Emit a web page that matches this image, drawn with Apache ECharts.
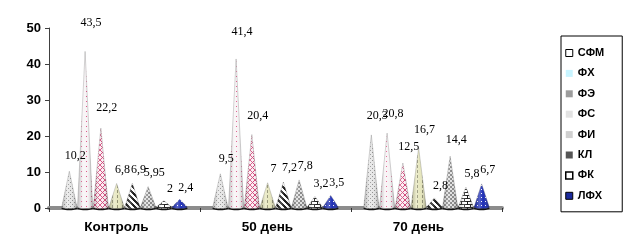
<!DOCTYPE html>
<html>
<head>
<meta charset="utf-8">
<script src="https://cdn.jsdelivr.net/npm/echarts@6/dist/echarts.min.js"></script>
<style>
	html, body { margin: 0; padding: 0; background: #fff; }
	#chart { width: 624px; height: 240px; }
</style>
</head>
<body>
<div id="chart"></div>
<script>
	// 分组与系列
	var groups = ['Контроль', '50 день', '70 день'];
	var seriesNames = ['СФМ', 'ФХ', 'ФЭ', 'ФС', 'ФИ', 'КЛ', 'ФК', 'ЛФХ'];
	var yTicks = [0, 10, 20, 30, 40, 50];

	var sfm = [10.2, 9.5, 20.3];
	var fh = [43.5, 41.4, 20.8];
	var fe = [22.2, 20.4, 12.5];
	var fs = [6.8, 7, 16.7];
	var fi = [6.9, 7.2, 2.8];
	var kl = [5.95, 7.8, 14.4];
	var fk = [2, 3.2, 5.8];
	var lfh = [2.4, 3.5, 6.7];

	var values = [sfm, fh, fe, fs, fi, kl, fk, lfh];

	// 纹理
	function pattern(size, draw) {
		var c = document.createElement('canvas');
		c.width = size;
		c.height = size;
		var ctx = c.getContext('2d');
		draw(ctx, size);
		return { image: c, repeat: 'repeat' };
	}

	var fills = [
		pattern(4, function(ctx) {
			ctx.fillStyle = '#e6e6e6'; ctx.fillRect(0, 0, 4, 4);
			ctx.fillStyle = '#8f8f8f'; ctx.fillRect(0, 0, 1, 1); ctx.fillRect(2, 2, 1, 1);
		}),
		pattern(5, function(ctx) {
			ctx.fillStyle = '#f7f3f5'; ctx.fillRect(0, 0, 5, 5);
			ctx.fillStyle = '#e0588a'; ctx.fillRect(1, 1, 1, 1);
		}),
		pattern(5, function(ctx) {
			ctx.fillStyle = '#fbeef3'; ctx.fillRect(0, 0, 5, 5);
			ctx.fillStyle = '#d2487a';
			for (var i = 0; i < 5; i++) { ctx.fillRect(i, i, 1, 1); ctx.fillRect(4 - i, i, 1, 1); }
		}),
		pattern(5, function(ctx) {
			ctx.fillStyle = '#e6e6bd'; ctx.fillRect(0, 0, 5, 5);
			ctx.fillStyle = '#8e8e70'; ctx.fillRect(2, 0, 1, 3);
		}),
		pattern(6, function(ctx) {
			ctx.fillStyle = '#ffffff'; ctx.fillRect(0, 0, 6, 6);
			ctx.fillStyle = '#1a1a1a';
			for (var i = 0; i < 6; i++) { ctx.fillRect((i + 5) % 6, i, 1, 1); ctx.fillRect(i, i, 1, 1); ctx.fillRect((i + 1) % 6, i, 1, 1); }
		}),
		pattern(4, function(ctx) {
			ctx.fillStyle = '#e2e2e2'; ctx.fillRect(0, 0, 4, 4);
			ctx.fillStyle = '#888888'; ctx.fillRect(0, 0, 2, 2); ctx.fillRect(2, 2, 2, 2);
		}),
		pattern(6, function(ctx) {
			ctx.fillStyle = '#ffffff'; ctx.fillRect(0, 0, 6, 6);
			ctx.fillStyle = '#1a1a1a'; ctx.fillRect(0, 0, 6, 1); ctx.fillRect(0, 3, 6, 1);
			ctx.fillRect(2, 0, 1, 3); ctx.fillRect(5, 3, 1, 3);
		}),
		pattern(4, function(ctx) {
			ctx.fillStyle = '#1f2fb5'; ctx.fillRect(0, 0, 4, 4);
			ctx.fillStyle = '#ffffff'; ctx.fillRect(1, 1, 1, 1);
		})
	];

	// 图例小方块
	var legendStyles = [
		{ color: '#ffffff', borderColor: '#000', borderWidth: 1 },
		{ color: '#c8f4ff', borderColor: '#c8f4ff', borderWidth: 0 },
		{ color: '#9c9c9c', borderColor: '#9c9c9c', borderWidth: 0 },
		{ color: '#e2e2e2', borderColor: '#e2e2e2', borderWidth: 0 },
		{ color: '#cfcfcf', borderColor: '#cfcfcf', borderWidth: 0 },
		{ color: '#555555', borderColor: '#000', borderWidth: 0 },
		{ color: '#ffffff', borderColor: '#000', borderWidth: 1.5 },
		{ color: '#1b2a9c', borderColor: '#000', borderWidth: 1 }
	];

	// 立体感
	var shade = {
		type: 'linear', x: 0, y: 0, x2: 1, y2: 0,
		colorStops: [
			{ offset: 0, color: 'rgba(0,0,0,0.18)' },
			{ offset: 0.35, color: 'rgba(255,255,255,0.25)' },
			{ offset: 0.6, color: 'rgba(255,255,255,0)' },
			{ offset: 1, color: 'rgba(0,0,0,0.3)' }
		]
	};

	function fmt(v) {
		return String(v).replace('.', ',');
	}

	function makeRender(i) {
		return function(params, api) {
			var c = api.value(0);
			var v = api.value(1);
			var base = api.coord([c, 0]);
			var top = api.coord([c, v]);
			var band = api.size([1, 0])[0];
			var step = band * 0.835 / seriesNames.length;
			var cx = base[0] + (i - (seriesNames.length - 1) / 2) * step;
			var half = step * 0.48;
			var by = base[1] - 1;
			var pts = [[cx, top[1]]];
			var ell = [];
			for (var k = 0; k <= 12; k++) {
				var a = Math.PI * k / 12;
				pts.push([cx + half * Math.cos(a), by + 1.6 * Math.sin(a)]);
			}
			for (var k2 = 0; k2 < 24; k2++) {
				var b = Math.PI * 2 * k2 / 24;
				ell.push([cx + half * 1.05 * Math.cos(b), by + 1.2 + 2 * Math.sin(b)]);
			}
			return {
				type: 'group',
				children: [
					{ type: 'polygon', shape: { points: ell }, style: { fill: '#111' } },
					{ type: 'polygon', shape: { points: pts }, style: { fill: fills[i], stroke: 'rgba(90,90,90,0.55)', lineWidth: 0.5 } },
					{ type: 'polygon', shape: { points: pts }, style: { fill: shade } },
					{
						type: 'text',
						z2: 100,
						x: cx + 6,
						y: top[1] - (5 + v * 0.4),
						style: {
							text: fmt(v),
							fill: '#000',
							font: '12px "Liberation Serif"',
							align: 'center',
							verticalAlign: 'bottom'
						}
					}
				]
			};
		};
	}

	var series = seriesNames.map(function(name, i) {
		return {
			name: name,
			type: 'custom',
			renderItem: makeRender(i),
			encode: { x: 0, y: 1 },
			itemStyle: { color: legendStyles[i].color },
			data: values[i].map(function(v, c) { return [c, v]; })
		};
	});

	var chart = echarts.init(document.getElementById('chart'));
	var option = {
		animation: false,
		grid: { left: 49, right: 122, top: 28, bottom: 32 },
		legend: {
			orient: 'vertical',
			left: 561,
			top: 36,
			padding: [10, 18, 9, 4],
			itemWidth: 7,
			itemHeight: 7,
			itemGap: 6.4,
			borderColor: '#000',
			borderWidth: 1,
			textStyle: {
				fontFamily: 'Liberation Sans',
				fontWeight: 'bold',
				fontSize: 11,
				color: '#000',
				lineHeight: 14
			},
			data: seriesNames.map(function(n, i) {
				return { name: n, icon: 'rect', itemStyle: legendStyles[i] };
			})
		},
		xAxis: {
			type: 'category',
			data: groups,
			axisLine: { lineStyle: { color: '#8c8c8c', width: 4 } },
			axisTick: { show: true, length: 4, lineStyle: { color: '#333' } },
			axisLabel: {
				fontFamily: 'Liberation Sans',
				fontWeight: 'bold',
				fontSize: 13.5,
				color: '#000',
				margin: 12,
				padding: [0, 16, 0, 0]
			}
		},
		yAxis: {
			type: 'value',
			min: yTicks[0],
			max: yTicks[yTicks.length - 1],
			interval: 10,
			splitLine: { show: false },
			axisLine: { show: true, lineStyle: { color: '#404040', width: 1 } },
			axisTick: { show: true, length: 4, lineStyle: { color: '#404040' } },
			axisLabel: {
				fontFamily: 'Liberation Sans',
				fontWeight: 'bold',
				fontSize: 13,
				color: '#000',
				margin: 8
			}
		},
		series: series
	};
	chart.setOption(option);
</script>
</body>
</html>
